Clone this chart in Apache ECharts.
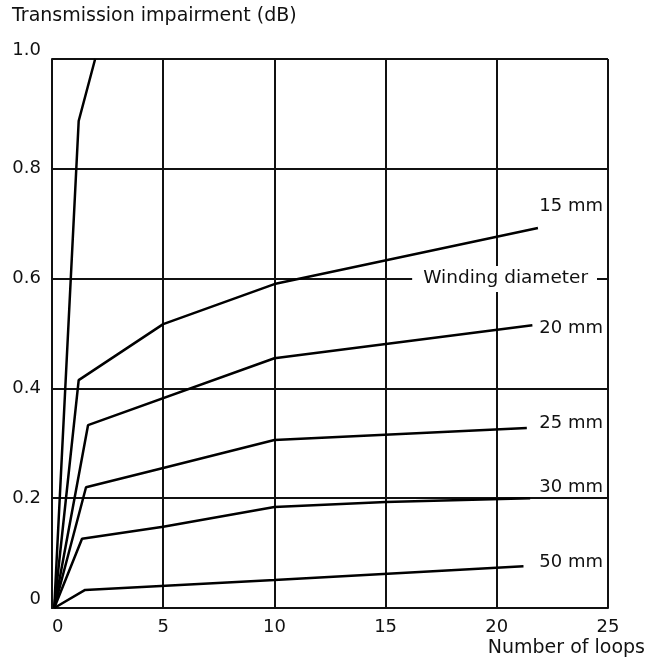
<!DOCTYPE html>
<html>
<head>
<meta charset="utf-8">
<script src="https://cdn.jsdelivr.net/npm/echarts@6/dist/echarts.min.js"></script>
<style>
  html, body { margin: 0; padding: 0; background: #fff; }
  #chart { width: 647px; height: 662px; }
</style>
</head>
<body>
<div id="chart"></div>
<script>
// values: [loops, dB]
const xTicks = [0, 5, 10, 15, 20, 25];
const yTicks = [0, 0.2, 0.4, 0.6, 0.8, 1.0];

const steepLine = [[0.1, 0], [1.2, 0.887], [1.94, 1.0]];
const mm15 = [[0.1, 0], [1.2, 0.415], [5, 0.517], [10, 0.59], [21.85, 0.692]];
const mm20 = [[0.1, 0], [1.62, 0.333], [10, 0.455], [21.6, 0.515]];
const mm25 = [[0.1, 0], [1.53, 0.22], [5, 0.255], [10, 0.306], [21.35, 0.328]];
const mm30 = [[0.1, 0], [1.35, 0.126], [5, 0.148], [10, 0.184], [15, 0.193], [21.5, 0.2]];
const mm50 = [[0.1, 0], [1.49, 0.033], [10, 0.051], [21.2, 0.076]];

const seriesNames = ['', '15 mm', '20 mm', '25 mm', '30 mm', '50 mm'];
const seriesData = [steepLine, mm15, mm20, mm25, mm30, mm50];

const font = 'DejaVu Sans';
const ink = '#111';

const chart = echarts.init(document.getElementById('chart'));

const option = {
    animation: false,
    backgroundColor: '#fff',
    grid: { left: 52, right: 39, top: 59, bottom: 54 },
    xAxis: {
        type: 'value',
        min: xTicks[0],
        max: xTicks[xTicks.length - 1],
        interval: 5,
        axisLine: { show: true, lineStyle: { color: ink, width: 2 } },
        axisTick: { show: false },
        axisLabel: {
            color: ink, fontFamily: font, fontSize: 18, margin: 10,
            alignMinLabel: 'left'
        },
        splitLine: { show: true, lineStyle: { color: ink, width: 2 } }
    },
    yAxis: {
        type: 'value',
        min: yTicks[0],
        max: yTicks[yTicks.length - 1],
        interval: 0.2,
        axisLine: { show: true, lineStyle: { color: ink, width: 2 } },
        axisTick: { show: false },
        axisLabel: {
            color: ink, fontFamily: font, fontSize: 18, margin: 11,
            verticalAlignMinLabel: 'bottom',
            verticalAlignMaxLabel: 'bottom',
            formatter: v => v === 0 ? '0' : v.toFixed(1)
        },
        splitLine: { show: true, lineStyle: { color: ink, width: 2 } }
    },
    series: seriesData.map((d, i) => ({
        name: seriesNames[i] || 'steep',
        type: 'line',
        data: d,
        symbol: 'none',
        clip: true,
        z: 3,
        lineStyle: { color: '#000', width: 2.5 }
    })),
    graphic: [
        {
            type: 'text', left: 12, top: 7, z: 100,
            style: { text: 'Transmission impairment (dB)', fill: ink, font: '19px "DejaVu Sans"' }
        },
        {
            type: 'text', right: 2, top: 639, z: 100,
            style: { text: 'Number of loops', fill: ink, font: '19px "DejaVu Sans"' }
        },
        {
            type: 'text', right: 50, top: 266, z: 100,
            style: {
                text: 'Winding diameter', fill: ink, font: '18.5px "DejaVu Sans"',
                backgroundColor: '#fff', padding: [3, 9, 4, 11]
            }
        },
        { type: 'text', right: 44, top: 197, z: 100, style: { text: seriesNames[1], fill: ink, font: '18px "DejaVu Sans"' } },
        { type: 'text', right: 44, top: 319, z: 100, style: { text: seriesNames[2], fill: ink, font: '18px "DejaVu Sans"' } },
        { type: 'text', right: 44, top: 414, z: 100, style: { text: seriesNames[3], fill: ink, font: '18px "DejaVu Sans"' } },
        { type: 'text', right: 44, top: 478, z: 100, style: { text: seriesNames[4], fill: ink, font: '18px "DejaVu Sans"' } },
        { type: 'text', right: 44, top: 553, z: 100, style: { text: seriesNames[5], fill: ink, font: '18px "DejaVu Sans"' } }
    ]
};

chart.setOption(option);
</script>
</body>
</html>
